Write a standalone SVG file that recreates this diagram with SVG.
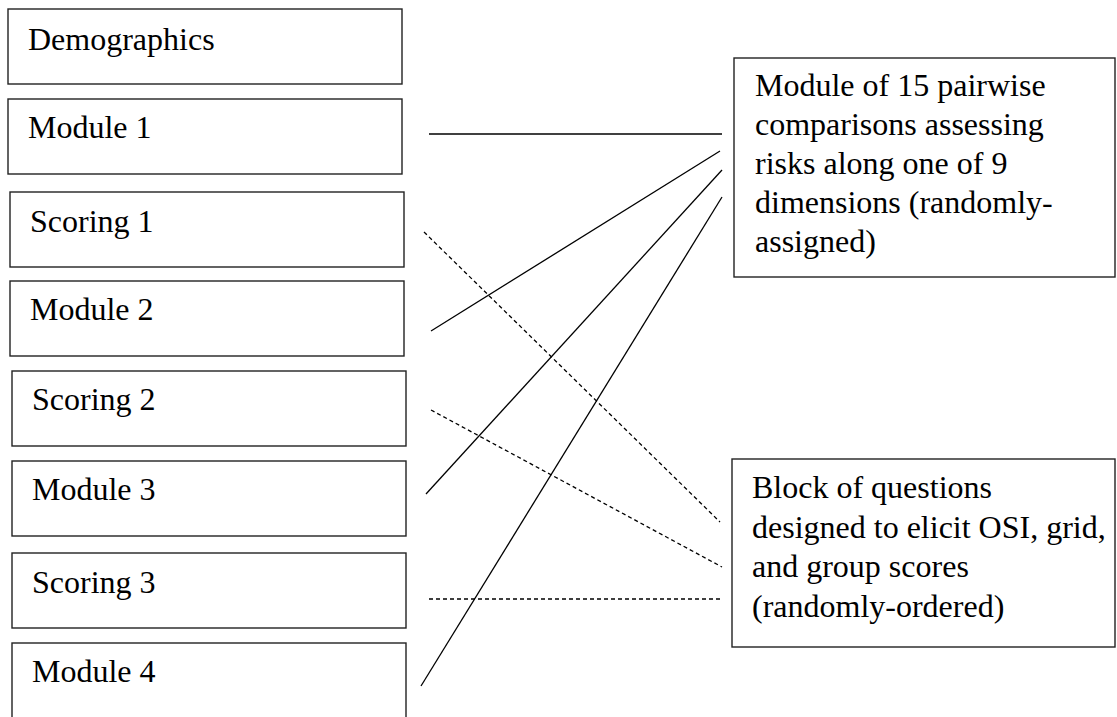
<svg xmlns="http://www.w3.org/2000/svg" width="1117" height="717" viewBox="0 0 1117 717">
<style>
.box{fill:#fff;stroke:#222;stroke-width:1.4}
.t{font-family:"Liberation Serif","Times New Roman",serif;font-size:32px;fill:#000}
.ln{stroke:#000;stroke-width:1.3;fill:none}
.ds{stroke:#000;stroke-width:1.3;fill:none;stroke-dasharray:4 3}
</style>
<rect width="1117" height="717" fill="#fff"/>
<g id="demographics"><rect class="box" x="8" y="9" width="394" height="75"/><text class="t" x="28" y="50">Demographics</text></g>
<g id="module1"><rect class="box" x="8" y="99" width="394" height="75"/><text class="t" x="28" y="138">Module 1</text></g>
<g id="scoring1"><rect class="box" x="10" y="192" width="394" height="75"/><text class="t" x="30" y="232">Scoring 1</text></g>
<g id="module2"><rect class="box" x="10" y="281" width="394" height="75"/><text class="t" x="30" y="320">Module 2</text></g>
<g id="scoring2"><rect class="box" x="12" y="371" width="394" height="75"/><text class="t" x="32" y="410">Scoring 2</text></g>
<g id="module3"><rect class="box" x="12" y="461" width="394" height="75"/><text class="t" x="32" y="500">Module 3</text></g>
<g id="scoring3"><rect class="box" x="12" y="553" width="394" height="75"/><text class="t" x="32" y="593">Scoring 3</text></g>
<g id="module4"><rect class="box" x="12" y="643" width="394" height="90"/><text class="t" x="32" y="682">Module 4</text></g>
<g id="pairwise"><rect class="box" x="734" y="58" width="381" height="219"/>
<text class="t" x="755" y="96">Module of 15 pairwise</text>
<text class="t" x="755" y="135">comparisons assessing</text>
<text class="t" x="755" y="174">risks along one of 9</text>
<text class="t" x="755" y="213">dimensions (randomly-</text>
<text class="t" x="755" y="252">assigned)</text></g>
<g id="block"><rect class="box" x="732" y="459" width="383" height="188"/>
<text class="t" x="752" y="498">Block of questions</text>
<text class="t" x="752" y="538">designed to elicit OSI, grid,</text>
<text class="t" x="752" y="577">and group scores</text>
<text class="t" x="752" y="617">(randomly-ordered)</text></g>
<g id="connectors">
<line class="ln" x1="429" y1="134" x2="722" y2="134"/>
<line class="ln" x1="431" y1="331" x2="720" y2="151"/>
<line class="ln" x1="426" y1="494" x2="722" y2="170"/>
<line class="ln" x1="421" y1="686" x2="722" y2="197"/>
<line class="ds" x1="424" y1="232" x2="720" y2="522"/>
<line class="ds" x1="431" y1="410" x2="722" y2="567"/>
<line class="ds" x1="429" y1="599" x2="722" y2="599"/>
</g>
</svg>
